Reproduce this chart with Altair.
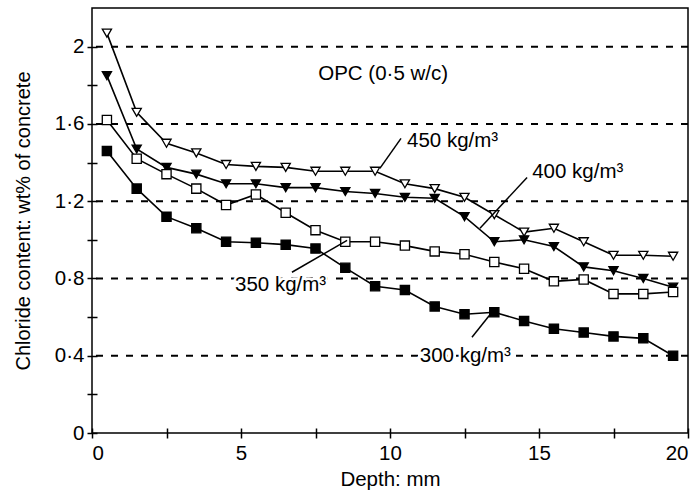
import altair as alt
import pandas as pd

# ---- data ----
depth = [0.5, 1.5, 2.5, 3.5, 4.5, 5.5, 6.5, 7.5, 8.5, 9.5,
         10.5, 11.5, 12.5, 13.5, 14.5, 15.5, 16.5, 17.5, 18.5, 19.5]
c450 = [2.07, 1.66, 1.50, 1.45, 1.39, 1.38, 1.375, 1.355, 1.355, 1.355,
        1.29, 1.265, 1.22, 1.13, 1.04, 1.06, 0.99, 0.92, 0.92, 0.915]
c400 = [1.85, 1.47, 1.375, 1.34, 1.29, 1.29, 1.27, 1.27, 1.25, 1.24,
        1.22, 1.215, 1.12, 0.99, 1.00, 0.965, 0.86, 0.84, 0.80, 0.755]
c350 = [1.62, 1.42, 1.34, 1.265, 1.18, 1.235, 1.14, 1.05, 0.99, 0.99,
        0.97, 0.94, 0.925, 0.885, 0.85, 0.785, 0.795, 0.72, 0.72, 0.73]
c300 = [1.46, 1.265, 1.12, 1.06, 0.99, 0.985, 0.975, 0.955, 0.855, 0.76,
        0.74, 0.655, 0.615, 0.625, 0.58, 0.54, 0.52, 0.50, 0.49, 0.40]

series_names = ["450", "400", "350", "300"]
series_shapes = ["triangle-down", "triangle-down", "square", "square"]
series_fills = ["white", "black", "white", "black"]

x_ticks = [0, 2.5, 5, 7.5, 10, 12.5, 15, 17.5, 20]
y_ticks = [0, 0.2, 0.4, 0.6, 0.8, 1.0, 1.2, 1.4, 1.6, 1.8, 2.0]
grid_y = [0.4, 0.8, 1.2, 1.6, 2.0]

label_text = ["450 kg/m³", "400 kg/m³", "350 kg/m³", "300 kg/m³", "OPC (0·5 w/c)"]
label_x = [10.57, 14.77, 4.8, 11.0, 9.77]
label_y = [1.51, 1.35, 0.765, 0.40, 1.86]
label_align = ["left", "left", "left", "left", "center"]

leader_x1 = [9.66, 14.6, 6.71, 12.75]
leader_y1 = [1.37, 1.323, 0.832, 0.496]
leader_x2 = [10.37, 13.02, 8.56, 13.42]
leader_y2 = [1.525, 1.06, 0.997, 0.625]

# ---- tables ----
rows = []
for name, vals in zip(series_names, [c450, c400, c350, c300]):
    for d, v in zip(depth, vals):
        rows.append({"series": name, "depth": d, "value": v})
df = pd.DataFrame(rows)
grid_df = pd.DataFrame({"y": grid_y})
lab_df = pd.DataFrame({"text": label_text, "x": label_x, "y": label_y, "align": label_align})
lead_df = pd.DataFrame({"x": leader_x1, "y": leader_y1, "x2": leader_x2, "y2": leader_y2})

FONT = "Liberation Sans"
FS = 20.5
xscale = alt.Scale(domain=[0, 20], nice=False, zero=False)
yscale = alt.Scale(domain=[0, 2.2], nice=False, zero=False)

xaxis = alt.Axis(values=x_ticks, title="Depth: mm", domain=False, grid=False,
                 offset=-5, tickSize=10, tickColor="black", tickWidth=1.5,
                 labelExpr="datum.value % 5 == 0 ? format(datum.value, 'd') : ''",
                 labelFontSize=FS, labelColor="black", labelFont=FONT, labelPadding=5,
                 titleFontSize=FS, titleFont=FONT, titleColor="black",
                 titleFontWeight="normal", titlePadding=6)
yaxis = alt.Axis(values=y_ticks, title="Chloride content: wt% of concrete", domain=False, grid=False,
                 offset=-5, tickSize=10, tickColor="black", tickWidth=1.5,
                 labelExpr="round(datum.value*10) % 4 == 0 ? (datum.value == round(datum.value) ? format(datum.value, 'd') : replace(format(datum.value, '.1f'), '.', '·')) : ''",
                 labelFontSize=FS, labelColor="black", labelFont=FONT, labelPadding=3,
                 titleFontSize=20, titleFont=FONT, titleColor="black",
                 titleFontWeight="normal", titlePadding=21)

grid = alt.Chart(grid_df).mark_rule(strokeDash=[7, 8], strokeWidth=2, color="black").encode(
    y=alt.Y("y:Q", scale=yscale, axis=yaxis),
)

# white halo behind labels so the dashed grid breaks around them
halo = alt.Chart(lab_df[lab_df["align"] == "left"]).mark_text(
    align="left", baseline="middle", fontSize=FS, font=FONT, color="white",
    stroke="white", strokeWidth=5
).encode(x=alt.X("x:Q", scale=xscale), y=alt.Y("y:Q", scale=yscale), text="text:N")

lines = alt.Chart(df).mark_line(color="black", strokeWidth=1.6).encode(
    x=alt.X("depth:Q", scale=xscale, axis=xaxis),
    y=alt.Y("value:Q", scale=yscale),
    detail="series:N",
)

points = alt.Chart(df).mark_point(size=85, strokeWidth=1.3, stroke="black", opacity=1, filled=False).encode(
    x=alt.X("depth:Q", scale=xscale),
    y=alt.Y("value:Q", scale=yscale),
    shape=alt.Shape("series:N", scale=alt.Scale(domain=series_names, range=series_shapes), legend=None),
    fill=alt.Fill("series:N", scale=alt.Scale(domain=series_names, range=series_fills), legend=None),
)

leaders = alt.Chart(lead_df).mark_rule(color="black", strokeWidth=1.5).encode(
    x=alt.X("x:Q", scale=xscale), y=alt.Y("y:Q", scale=yscale),
    x2="x2:Q", y2="y2:Q",
)

text_left = alt.Chart(lab_df[lab_df["align"] == "left"]).mark_text(
    align="left", baseline="middle", fontSize=FS, font=FONT, color="black"
).encode(x=alt.X("x:Q", scale=xscale), y=alt.Y("y:Q", scale=yscale), text="text:N")

text_center = alt.Chart(lab_df[lab_df["align"] == "center"]).mark_text(
    align="center", baseline="middle", fontSize=FS, font=FONT, color="black"
).encode(x=alt.X("x:Q", scale=xscale), y=alt.Y("y:Q", scale=yscale), text="text:N")

chart = alt.layer(grid, halo, lines, points, leaders, text_left, text_center).properties(
    width=596, height=425,
    autosize=alt.AutoSizeParams(type="none"),
    padding={"left": 92, "top": 8, "right": 12, "bottom": 62},
    background="white",
).configure_view(stroke="black", strokeWidth=1.5)

chart.save("out.html", embed_options={"renderer": "svg", "actions": False})
